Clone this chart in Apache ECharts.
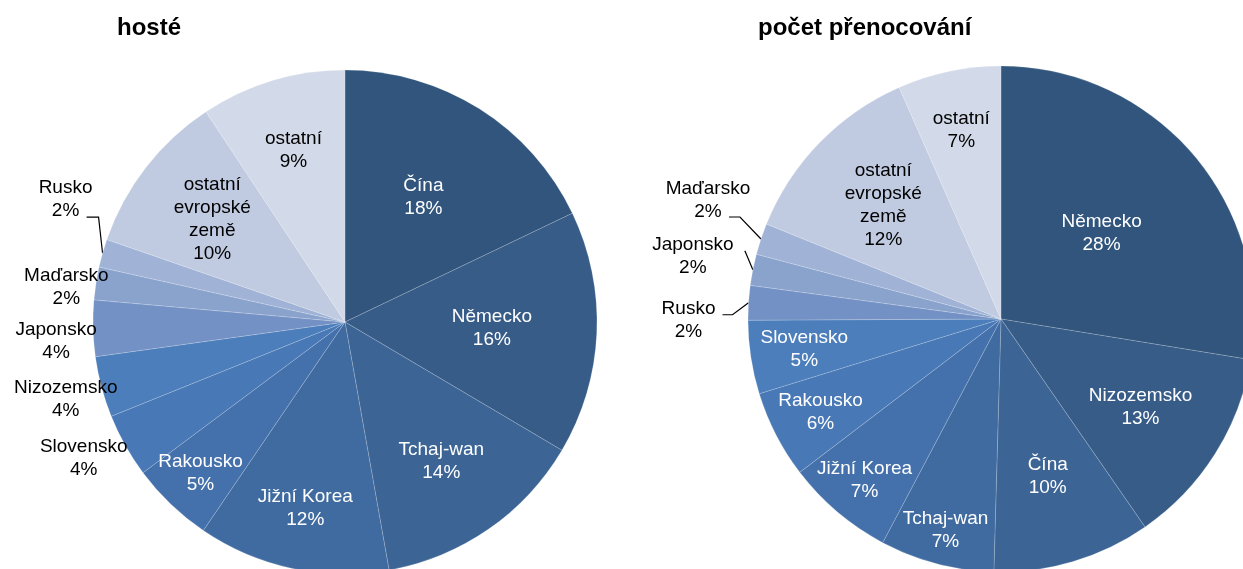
<!DOCTYPE html>
<html>
<head>
<meta charset="utf-8">
<script src="https://cdn.jsdelivr.net/npm/echarts@6/dist/echarts.min.js"></script>
<style>
html,body{margin:0;padding:0;background:#fff;}
#chart{width:1243px;height:569px;}
</style>
</head>
<body>
<div id="chart"></div>
<script>
// ---- data ----
const guestCategories = ['Čína','Německo','Tchaj-wan','Jižní Korea','Rakousko','Slovensko','Nizozemsko','Japonsko','Maďarsko','Rusko','ostatní evropské země','ostatní'];
const guestValues = [17.9,15.6,13.7,12.3,5.3,4.1,3.9,3.6,2.1,1.8,10.4,9.3];

const nightCategories = ['Německo','Nizozemsko','Čína','Tchaj-wan','Jižní Korea','Rakousko','Slovensko','Rusko','Japonsko','Maďarsko','ostatní evropské země','ostatní'];
const nightValues = [27.6,12.8,10.1,7.3,6.9,5.6,4.7,2.2,2.0,2.0,12.3,6.6];

const titles = ['hosté','počet přenocování'];

// ---- style / layout ----
const palette = ['#31557c','#375c88','#3c6596','#406ba0','#4471ab','#4878b5','#4b7ebb','#7391c4','#8aa3cd','#a0b3d6','#c0cbe1','#d2d9e8'];
const FONT = '"Liberation Sans", Arial, sans-serif';

const leftCenter = [345, 322], leftRadius = 252;
const rightCenter = [1001, 319], rightRadius = 253;

const leftSpec = [
  {d:147,c:'#fff'},{d:147,c:'#fff'},{d:169,c:'#fff'},{d:190,c:'#fff'},{d:209,c:'#fff'},
  {d:294,c:'#000',ox:-5,oy:-8},{d:289,c:'#000',oy:3},{d:289,c:'#000',oy:12},{d:282,c:'#000',oy:9},
  {lx:-37,ly:-54,line:[[-4,-36],[-16,-36]],c:'#000'},
  {d:168,c:'#000'},{d:179,c:'#000'}
];
const rightSpec = [
  {d:132,c:'#fff'},{d:165,c:'#fff'},{d:164,c:'#fff'},{d:218,c:'#fff'},{d:211,c:'#fff'},{d:203,c:'#fff'},{d:199,c:'#fff'},
  {lx:-60,ly:18,line:[[-16,12],[-26,12]],c:'#000'},
  {lx:-60,ly:-13,line:[[-8,-19]],c:'#000'},
  {lx:-53,ly:-39,line:[[-21,-22],[-32,-22]],c:'#000'},
  {d:164,c:'#000'},{d:193,c:'#000'}
];

function displayName(n){
  return n === 'ostatní evropské země' ? 'ostatní\nevropské\nzemě' : n;
}

function buildData(cats, vals, spec){
  return cats.map(function(n,i){
    const s = spec[i];
    return {
      name: n, value: vals[i],
      itemStyle: {color: palette[i]},
      label: {position: s.line ? 'outside' : 'inside', color: s.c},
      labelLine: {show: !!s.line}
    };
  });
}

function makeLayout(C, spec){
  return function(p){
    const s = spec[p.dataIndex];
    if (s.line) {
      const pts = p.labelLinePoints;
      if (!pts) return {};
      const p0 = pts[0];
      return {
        x: p0[0] + s.lx, y: p0[1] + s.ly, align: 'center', verticalAlign: 'middle',
        labelLinePoints: [p0].concat(s.line.map(function(d){ return [p0[0]+d[0], p0[1]+d[1]]; }))
      };
    }
    const r = p.labelRect;
    const mx = r.x + r.width/2, my = r.y + r.height/2;
    const vx = mx - C[0], vy = my - C[1];
    const L = Math.sqrt(vx*vx + vy*vy) || 1;
    return {
      x: C[0] + vx*s.d/L + (s.ox || 0),
      y: C[1] + vy*s.d/L + (s.oy || 0),
      align: 'center', verticalAlign: 'middle'
    };
  };
}

function pieSeries(cats, vals, spec, C, R){
  return {
    type: 'pie',
    center: C,
    radius: [0, R],
    startAngle: 90,
    clockwise: true,
    avoidLabelOverlap: false,
    silent: true,
    animation: false,
    emphasis: {disabled: true},
    itemStyle: {borderColor: 'rgba(255,255,255,0.35)', borderWidth: 0.5},
    label: {
      show: true,
      fontFamily: FONT, fontSize: 19, lineHeight: 23,
      formatter: function(p){ return displayName(p.name) + '\n' + Math.round(p.percent) + '%'; }
    },
    labelLine: {lineStyle: {color: '#000', width: 1.2}, length: 10, length2: 10},
    labelLayout: makeLayout(C, spec),
    data: buildData(cats, vals, spec)
  };
}

const chart = echarts.init(document.getElementById('chart'), null, {renderer: 'canvas'});
chart.setOption({
  animation: false,
  backgroundColor: '#fff',
  title: [
    {text: titles[0], left: 117, top: 16, padding: 0, textStyle: {fontFamily: FONT, fontSize: 24, fontWeight: 'bold', color: '#000'}},
    {text: titles[1], left: 758, top: 16, padding: 0, textStyle: {fontFamily: FONT, fontSize: 24, fontWeight: 'bold', color: '#000'}}
  ],
  series: [
    pieSeries(guestCategories, guestValues, leftSpec, leftCenter, leftRadius),
    pieSeries(nightCategories, nightValues, rightSpec, rightCenter, rightRadius)
  ]
});
</script>
</body>
</html>
